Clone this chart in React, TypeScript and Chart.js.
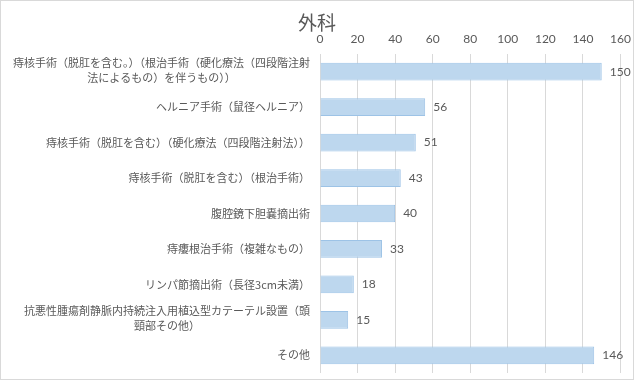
import React, { useEffect, useRef } from 'react';
import { Chart, registerables } from 'chart.js';

Chart.register(...registerables);

const chartTitle = '外科';
const categories: (string | string[])[] = [
  ['痔核手術（脱肛を含む。）（根治手術（硬化療法（四段階注射', '法によるもの）を伴うもの））'],
  'ヘルニア手術（鼠径ヘルニア）',
  '痔核手術（脱肛を含む）（硬化療法（四段階注射法））',
  '痔核手術（脱肛を含む）（根治手術）',
  '腹腔鏡下胆嚢摘出術',
  '痔瘻根治手術（複雑なもの）',
  'リンパ節摘出術（長径3cm未満）',
  ['抗悪性腫瘍剤静脈内持続注入用植込型カテーテル設置（頭', '頸部その他）'],
  'その他',
];
const values = [150, 56, 51, 43, 40, 33, 18, 15, 146];
const xTicks = [0, 20, 40, 60, 80, 100, 120, 140, 160];

const TEXT = '#595959';
const CJK = '"Noto Sans CJK JP", sans-serif';
const NUM = 'Lato, "Noto Sans", sans-serif';

const frame = {
  id: 'frame',
  beforeDraw(chart: any) {
    const { ctx, width, height } = chart;
    ctx.save();
    ctx.fillStyle = '#ffffff';
    ctx.fillRect(0, 0, width, height);
    ctx.strokeStyle = '#d9d9d9';
    ctx.lineWidth = 1;
    ctx.strokeRect(0.5, 0.5, width - 1, height - 1);
    ctx.restore();
  },
};

const catLabels = {
  id: 'catLabels',
  afterDraw(chart: any) {
    const { ctx } = chart;
    const ys = chart.scales.y;
    const right = ys.right - 10;
    ctx.save();
    ctx.font = `11px ${CJK}`;
    ctx.fillStyle = TEXT;
    ctx.textBaseline = 'middle';
    categories.forEach((lab, i) => {
      const y = ys.getPixelForTick(i);
      const lines = Array.isArray(lab) ? lab : [lab];
      const lh = 14.5;
      if (lines.length === 1) {
        ctx.textAlign = 'right';
        ctx.fillText(lines[0], right, y);
      } else {
        const maxW = Math.max(...lines.map((l) => ctx.measureText(l).width));
        const cx = right - maxW / 2;
        ctx.textAlign = 'center';
        const start = y - 1.5 - ((lines.length - 1) * lh) / 2;
        lines.forEach((l, k) => ctx.fillText(l, cx, start + k * lh));
      }
    });
    ctx.restore();
  },
};

const valueLabels = {
  id: 'valueLabels',
  afterDatasetsDraw(chart: any) {
    const { ctx } = chart;
    const meta = chart.getDatasetMeta(0);
    ctx.save();
    ctx.font = `12px ${NUM}`;
    ctx.fillStyle = TEXT;
    ctx.textAlign = 'left';
    ctx.textBaseline = 'middle';
    meta.data.forEach((bar: any, i: number) => {
      ctx.fillText(String(values[i]), bar.x + 8, bar.y);
    });
    ctx.restore();
  },
};

export default function App() {
  const ref = useRef<HTMLCanvasElement>(null);
  useEffect(() => {
    if (!ref.current) return;
    const chart = new Chart(ref.current, {
      type: 'bar',
      data: {
        labels: categories as any,
        datasets: [
          {
            data: values,
            backgroundColor: '#bdd7ee',
            borderColor: '#9dc3e6',
            borderWidth: 1,
            categoryPercentage: 1,
            barPercentage: 0.5,
          },
        ],
      },
      options: {
        indexAxis: 'y',
        responsive: false,
        animation: false,
        devicePixelRatio: 1,
        layout: { padding: { left: 0, right: 0, top: 0, bottom: 7 } },
        plugins: {
          legend: { display: false },
          tooltip: { enabled: false },
          title: {
            display: true,
            text: chartTitle,
            color: TEXT,
            font: { size: 19, family: CJK, weight: 'normal' },
            padding: { top: 11, bottom: 0 },
          },
        },
        scales: {
          x: {
            position: 'top',
            min: xTicks[0],
            max: xTicks[xTicks.length - 1],
            afterFit: (s: any) => {
              s.height = 20.2;
              s.paddingLeft = 0;
              s.paddingRight = 13.5;
            },
            ticks: {
              stepSize: xTicks[1] - xTicks[0],
              color: TEXT,
              font: { size: 12, family: NUM },
              padding: 8,
              maxRotation: 0,
            },
            grid: { color: '#d9d9d9', drawTicks: false },
            border: { display: false },
          },
          y: {
            afterFit: (s: any) => {
              s.width = 320;
              s.paddingTop = 0;
              s.paddingBottom = 0;
            },
            ticks: { display: false },
            grid: { display: false },
            border: { display: false },
          },
        },
      },
      plugins: [frame, catLabels, valueLabels],
    });
    return () => chart.destroy();
  }, []);
  return (
    <div style={{ position: 'absolute', left: 0, top: 0, width: 634, height: 380 }}>
      <canvas ref={ref} width={634} height={380} />
    </div>
  );
}
